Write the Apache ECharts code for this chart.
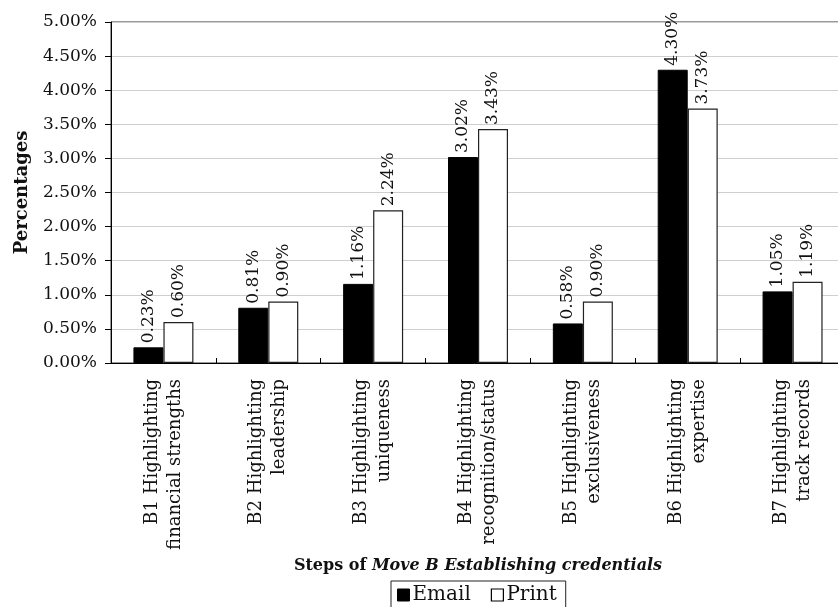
<!DOCTYPE html>
<html>
<head>
<meta charset="utf-8">
<script src="https://cdn.jsdelivr.net/npm/echarts@6/dist/echarts.min.js"></script>
<style>
  html, body { margin: 0; padding: 0; background: #fff; }
  #chart { width: 838px; height: 607px; }
</style>
</head>
<body>
<div id="chart"></div>
<script>
// Steps of Move B, percentages per medium
const categories = [
  'B1 Highlighting\nfinancial strengths',
  'B2 Highlighting\nleadership',
  'B3 Highlighting\nuniqueness',
  'B4 Highlighting\nrecognition/status',
  'B5 Highlighting\nexclusiveness',
  'B6 Highlighting\nexpertise',
  'B7 Highlighting\ntrack records'
];
const emailValues = [0.23, 0.81, 1.16, 3.02, 0.58, 4.30, 1.05];
const printValues = [0.60, 0.90, 2.24, 3.43, 0.90, 3.73, 1.19];
const yMin = 0, yMax = 5, yStep = 0.5;

const FONT = '"DejaVu Serif", "Liberation Serif", serif';
const pct = v => Number(v).toFixed(2) + '%';

const barLabel = {
  show: true,
  position: 'top',
  rotate: 90,
  align: 'left',
  verticalAlign: 'middle',
  distance: 4,
  fontFamily: FONT,
  fontSize: 17,
  color: '#111',
  formatter: p => pct(p.value)
};

const chart = echarts.init(document.getElementById('chart'), null, { renderer: 'canvas' });
chart.setOption({
  animation: false,
  backgroundColor: '#fff',
  textStyle: { fontFamily: FONT, color: '#111' },
  grid: {
    left: 111, width: 734, top: 22, bottom: 244,
    containLabel: false,
    outerBoundsMode: 'none',
    show: true, borderColor: '#333', borderWidth: 1, backgroundColor: 'transparent'
  },
  legend: {
    top: 581,
    left: 391,
    padding: [4, 9, 10, 6],
    borderColor: '#222',
    borderWidth: 1,
    itemWidth: 12,
    itemHeight: 12,
    itemGap: 20,
    icon: 'rect',
    textStyle: { fontFamily: FONT, fontSize: 20, color: '#111', padding: [0, 0, 0, -2] },
    data: [
      { name: 'Email', itemStyle: { color: '#000', borderColor: '#000', borderWidth: 1 } },
      { name: 'Print', itemStyle: { color: '#fff', borderColor: '#000', borderWidth: 1.2 } }
    ]
  },
  xAxis: {
    type: 'category',
    data: categories,
    axisLine: { lineStyle: { color: '#000', width: 1 } },
    axisTick: { show: true, inside: true, length: 5, lineStyle: { color: '#000' } },
    axisLabel: {
      rotate: 90,
      interval: 0,
      margin: 16,
      fontFamily: FONT,
      fontSize: 18,
      lineHeight: 23,
      color: '#111'
    },
    name: '{b|Steps of }{bi|Move B Establishing credentials}',
    nameLocation: 'middle',
    nameGap: 190,
    nameTextStyle: {
      rich: {
        b: { fontFamily: FONT, fontSize: 16, fontWeight: 'bold', color: '#111' },
        bi: { fontFamily: FONT, fontSize: 16, fontWeight: 'bold', fontStyle: 'italic', color: '#111' }
      }
    }
  },
  yAxis: {
    type: 'value',
    min: yMin,
    max: yMax,
    interval: yStep,
    axisLine: { show: true, lineStyle: { color: '#000', width: 1 } },
    axisTick: { show: true, inside: false, length: 6, lineStyle: { color: '#000' } },
    axisLabel: { formatter: v => pct(v), fontFamily: FONT, fontSize: 17, color: '#111', margin: 14 },
    splitLine: { lineStyle: { color: '#cfcfcf', width: 1 } },
    name: 'Percentages',
    nameLocation: 'middle',
    nameGap: 80,
    nameTextStyle: { fontFamily: FONT, fontSize: 18, fontWeight: 'bold', color: '#111' }
  },
  series: [
    {
      name: 'Email',
      type: 'bar',
      data: emailValues,
      barWidth: 30,
      barGap: '0%',
      itemStyle: { color: '#000', borderColor: '#000', borderWidth: 1 },
      label: barLabel
    },
    {
      name: 'Print',
      type: 'bar',
      data: printValues,
      barWidth: 30,
      barGap: '0%',
      itemStyle: { color: '#fff', borderColor: '#222', borderWidth: 1.2 },
      label: barLabel
    }
  ]
});
</script>
</body>
</html>
